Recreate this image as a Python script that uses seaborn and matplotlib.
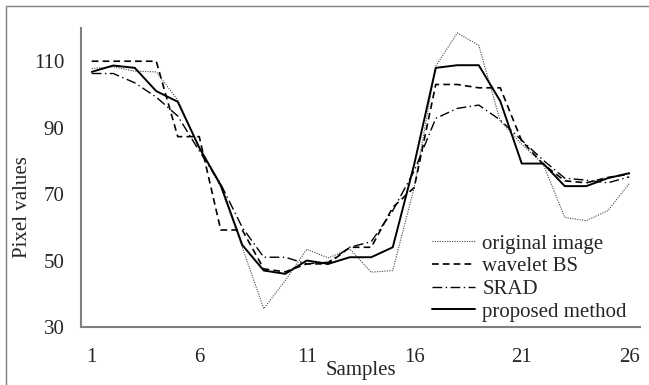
import matplotlib
matplotlib.use("Agg")
import matplotlib.pyplot as plt
import seaborn as sns
import numpy as np
from matplotlib.patches import Rectangle

samples = list(range(1, 27))
original_image = [107.8, 108.3, 107, 106.8, 98.3, 84, 72, 54, 35.5, 44, 53.4, 50.8, 53.5, 46.5, 47, 72,
                  108.5, 118.5, 114.8, 92, 85, 79, 63, 62, 65, 73.2]
wavelet_bs = [110, 110, 110, 110, 87.3, 87.3, 59.2, 59.2, 47.5, 46.6, 49, 49, 54, 54, 66, 72,
              103, 103, 102, 102, 86, 79, 74, 73.4, 75, 76]
srad = [106.3, 106.3, 103.5, 99.2, 93.5, 83, 73, 60, 51, 51, 49, 49.5, 54, 55.7, 65, 77,
        92.8, 95.8, 96.8, 92.3, 86.2, 80.2, 74.8, 74.2, 73.4, 75.2]
proposed = [106.8, 108.7, 108, 101, 97.8, 84, 72.7, 54.7, 47, 46, 50, 49, 51, 51, 54, 79,
            108, 108.8, 108.8, 98, 79.2, 79.2, 72.4, 72.4, 74.8, 76.3]

series_names = ["original image", "wavelet BS", "SRAD", "proposed method"]
y_ticks = [30, 50, 70, 90, 110]
x_tick_labels = [1, 6, 11, 16, 21, 26]

sns.set_theme(style="white")
plt.rcParams['font.family'] = ['Liberation Serif', 'DejaVu Serif']

FS = 15
fig = plt.figure(figsize=(6.49, 3.85), dpi=100)
W, H = 649, 385
ax = fig.add_axes([81 / W, 1 - 327 / H, (640 - 81) / W, (327 - 28) / H])

styles = [
    dict(linestyle=(0, (1, 1.2)), linewidth=0.8, color="#444444"),
    dict(linestyle=(0, (4, 2.5)), linewidth=1.2, color="black"),
    dict(linestyle=(0, (7, 2.5, 1, 2.5)), linewidth=1.0, color="black"),
    dict(linestyle="-", linewidth=1.4, color="black"),
]
for name, vals, st in zip(series_names, [original_image, wavelet_bs, srad, proposed], styles):
    sns.lineplot(x=samples, y=vals, ax=ax, label=name, **st)

ax.set_xlim(0.5, 26.5)
ax.set_ylim(30, 120)
ax.set_yticks(y_ticks)
ax.set_yticklabels([str(v) for v in y_ticks], fontsize=FS)
ax.set_xticks([0.5, 5.5, 10.5, 15.5, 20.5, 25.5])
ax.set_xticklabels([])
ax.set_xticks(x_tick_labels, minor=True)
ax.set_xticklabels([str(v) for v in x_tick_labels], minor=True, fontsize=FS)
ax.tick_params(axis="x", which="minor", length=0, pad=15)
ax.tick_params(axis="x", which="major", length=5, width=1, color="#808080", direction="out")
ax.tick_params(axis="y", length=5, width=1, color="#808080", direction="out", pad=7)

for s in ["top", "right"]:
    ax.spines[s].set_visible(False)
for s in ["left", "bottom"]:
    ax.spines[s].set_color("#808080")
    ax.spines[s].set_linewidth(1.5)

ax.set_xlabel("Samples", fontsize=FS)
ax.xaxis.set_label_coords((361 - 81) / 559, (327 - 370) / 299)
ax.xaxis.label.set_va("center")
ax.set_ylabel("Pixel values", fontsize=FS)
ax.yaxis.set_label_coords((22 - 81) / 559, (327 - 207) / 299)
ax.yaxis.label.set_va("center")

leg = ax.legend(loc="lower right", bbox_to_anchor=(1.0 - 5 / 559, -3 / 299), frameon=False, fontsize=FS,
                handlelength=2.07, handletextpad=0.34, labelspacing=0.15, borderaxespad=0.0)

fig.patches.append(Rectangle((6 / W, -0.05), 1.05, 1 - 6 / H + 0.05,
                             transform=fig.transFigure, fill=False, edgecolor="#808080",
                             linewidth=1.0))

fig.savefig("out.png", dpi=100)
